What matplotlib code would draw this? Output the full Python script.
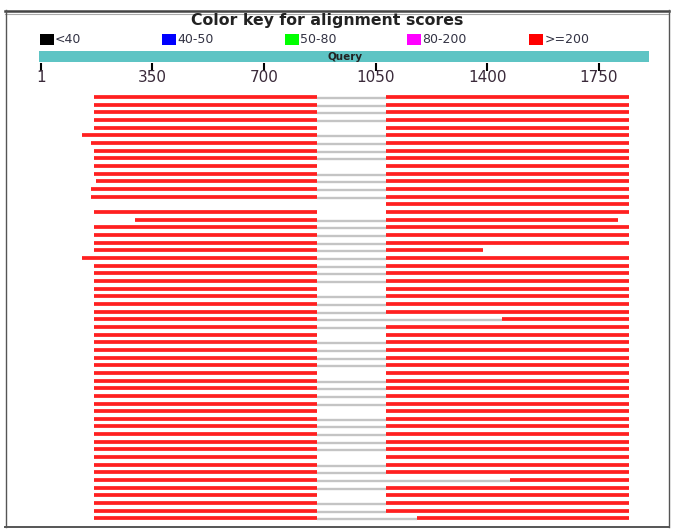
import matplotlib
matplotlib.use("Agg")
import matplotlib.pyplot as plt
from matplotlib.patches import Rectangle

# ---------------- data ----------------
QUERY_LEN = 1911
tick_values = [1, 350, 700, 1050, 1400, 1750]
legend_labels = ["<40", "40-50", "50-80", "80-200", ">=200"]
legend_colors = ["#000000", "#0000ff", "#00ff00", "#ff00ff", "#ff0000"]

N_ROWS = 56
# first HSP of each subject (query coordinates); None = absent
left_start = [167] * N_ROWS
left_end = [866] * N_ROWS
# second HSP
right_start = [1082] * N_ROWS
right_end = [1844] * N_ROWS
# whether the two HSPs are joined by a grey connector
linked = [True] * N_ROWS

for i, v in {5: 128, 6: 158, 11: 172, 12: 158, 13: 158, 16: 296, 21: 128}.items():
    left_start[i] = v
left_start[14] = None
left_end[14] = None
for i, v in {29: 1445, 50: 1471, 55: 1178}.items():
    right_start[i] = v
for i, v in {16: 1810, 20: 1386}.items():
    right_end[i] = v
for i in [4, 9, 14, 15, 25, 31, 36, 41, 47, 52]:
    linked[i] = False

# ---------------- layout ----------------
W, H = 676, 529
DPI = 100
px0, px1 = 41.0, 599.0  # pixel x of ticks 1 and 1750
k = (px1 - px0) / (1750 - 1)

fig = plt.figure(figsize=(W / DPI, H / DPI), dpi=DPI)
fig.patch.set_facecolor("white")

ax = fig.add_axes([0, 0, 1, 1])
ax.set_xlim(1 - px0 / k, 1 + (W - px0) / k)
ax.set_ylim(H, 0)
ax.axis("off")

deco = fig.add_axes([0, 0, 1, 1], facecolor="none")
deco.set_xlim(0, W)
deco.set_ylim(H, 0)
deco.axis("off")

# frame
deco.plot([5, 669], [10.5, 10.5], color="#444444", lw=1.8)
deco.plot([5, 669], [14, 14], color="#aaaaaa", lw=0.8)
deco.plot([5.5, 5.5], [10, 527], color="#555555", lw=1.0)
deco.plot([668.5, 668.5], [10, 527], color="#555555", lw=1.0)
deco.plot([5, 669], [527, 527], color="#555555", lw=1.4)

# title
deco.text(327, 21, "Color key for alignment scores", ha="center", va="center",
          fontsize=11.3, fontweight="bold", color="#222222", family="DejaVu Sans")

# legend
for j, (lab, col) in enumerate(zip(legend_labels, legend_colors)):
    x = 40 + j * 122.3
    deco.add_patch(Rectangle((x, 34), 14, 11, facecolor=col, edgecolor="none"))
    deco.text(x + 15, 39.5, lab, ha="left", va="center", fontsize=9,
              color="#333344", family="DejaVu Sans")

# query bar
ax.add_patch(Rectangle((1 - 2 / k, 51), QUERY_LEN, 11, facecolor="#5ec4c4",
                       edgecolor="none"))
ax.text(1 + (345 - px0) / k, 56.5, "Query", ha="center", va="center",
        fontsize=7.5, fontweight="bold", color="#222222")

# ticks
for t in tick_values:
    ax.plot([t, t], [63, 71], color="black", lw=1.5, solid_capstyle="butt")
    ax.text(t, 78, str(t), ha="center", va="center", fontsize=11,
            color="#3a2a3a")

# rows
y0, dy = 96.9, 7.665
red, grey = "#ff2020", "#c4c4c4"
for i in range(N_ROWS):
    y = y0 + i * dy
    ls, le, rs, re = left_start[i], left_end[i], right_start[i], right_end[i]
    if linked[i] and ls is not None and rs is not None:
        ax.plot([le, rs], [y + 1, y + 1], color=grey, lw=1.7,
                solid_capstyle="butt")
    if ls is not None:
        ax.plot([ls, le], [y, y], color=red, lw=2.7, solid_capstyle="butt")
    if rs is not None:
        ax.plot([rs, re], [y, y], color=red, lw=2.7, solid_capstyle="butt")

fig.savefig("out.png", dpi=DPI, facecolor="white")
